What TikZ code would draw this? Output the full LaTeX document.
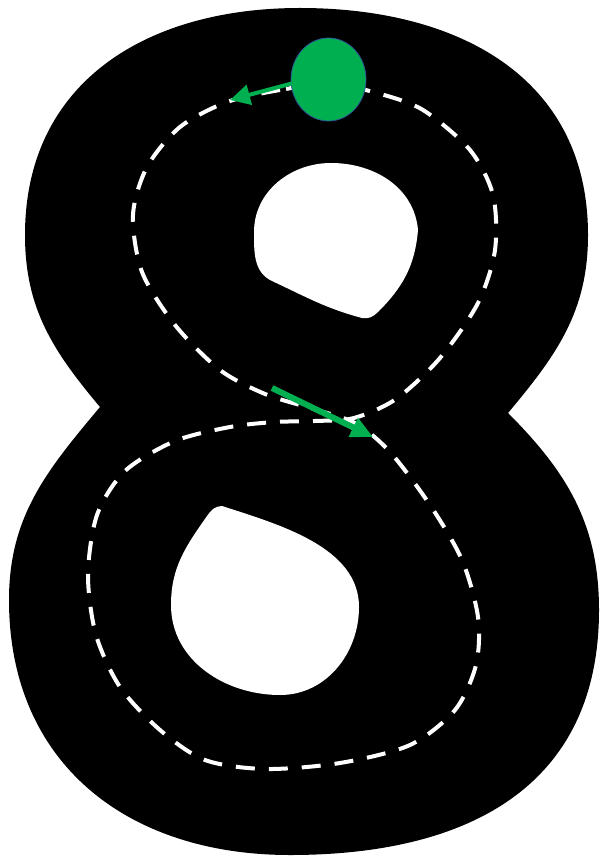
\documentclass[tikz,border=0pt]{standalone}
\usetikzlibrary{arrows.meta,shapes.geometric}
\definecolor{ballgreen}{HTML}{00B050}
\definecolor{ballrim}{HTML}{2F5597}

\begin{document}
\begin{tikzpicture}[x=1pt,y=-1pt]
\useasboundingbox (0,0) rectangle (601,858);
\fill[white] (0,0) rectangle (601,858);
% the figure eight, sharp at the two waist notches
\fill[black] (100,407) to[out=130,in=-90] (25,235)
 to[out=90,in=180,looseness=1.1] (300,8)
 to[out=0,in=90,looseness=1.1] (588,235)
 to[out=-90,in=50] (508,413)
 to[out=-45,in=90] (599,610)
 to[out=-90,in=0,looseness=1.15] (290,855)
 to[out=180,in=-90,looseness=1.1] (9,600)
 to[out=90,in=-130] cycle;
\fill[white] (254,232) to[out=90,in=180] (331,163)
 to[out=0,in=95] (418,230)
 to[out=-95,in=45] (378,312)
 to[out=-135,in=-10] (362,318)
 to[out=165,in=-25] (272,281)
 to[out=155,in=-90] cycle;
\fill[white] (222,506) to[out=-18,in=90,looseness=0.9] (359,607)
 to[out=-90,in=0] (280,695)
 to[out=180,in=-90] (171,605)
 to[out=90,in=-125] (207,516)
 to[out=55,in=180] cycle;
% dashed track
\draw[white,line width=4pt,dash pattern=on 19pt off 14pt] plot[smooth cycle] coordinates {
 (330,84) (280,90) (227,102) (180,127) (147,167) (133,215) (142,272) (175,325)
 (220,370) (265,394) (310,408) (355,423) (390,452) (430,505) (462,560) (478,617)
 (476,665) (455,710) (410,745) (340,763) (265,769) (205,760) (160,730) (120,687)
 (96,635) (88,575) (97,515) (125,471) (175,441) (230,427) (275,422) (315,421)
 (354,418) (396,399) (440,358) (478,303) (495,250) (493,195) (470,150) (423,110)
 (377,93)};
% start point and direction arrows
\node[ellipse,draw=ballrim,fill=ballgreen,line width=0.8pt,minimum width=75pt,minimum height=83pt,inner sep=0pt] (ball) at (328.5,79.5) {};
\coordinate (tipA) at (230,100);
\coordinate (tailB) at (272,388);
\coordinate (tipB) at (373,437);
\draw[ballgreen,line width=4pt,-{Triangle[length=20pt,width=20pt]}] (ball.west) ++(1,4) -- (tipA);
\draw[ballgreen,line width=6pt,-{Triangle[length=22pt,width=20pt]}] (tailB) -- (tipB);
\end{tikzpicture}
\end{document}
